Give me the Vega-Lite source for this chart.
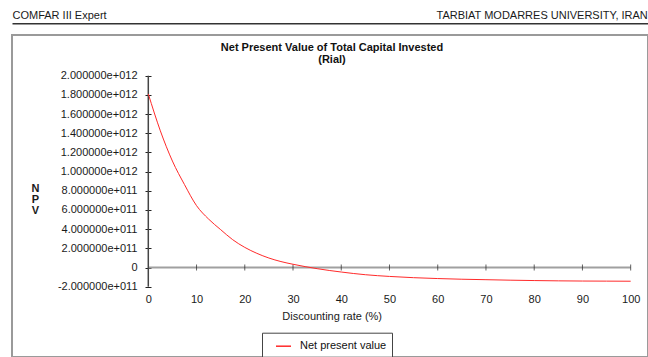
{
  "$schema": "https://vega.github.io/schema/vega-lite/v6.json",
  "width": 636,
  "height": 322,
  "autosize": {"type": "none"},
  "padding": {"left": 12, "top": 35, "right": 0, "bottom": 0},
  "background": "white",
  "config": {
    "font": "Liberation Sans",
    "view": {"stroke": "#9a9a9a", "strokeWidth": 2},
    "axis": {"labelFont": "Liberation Sans", "titleFont": "Liberation Sans", "labelFontSize": 11, "titleFontSize": 11, "labelColor": "#1a1a1a", "titleColor": "#1a1a1a", "grid": false, "labelOverlap": false, "labelFlush": false}
  },
  "title": {
    "text": "Net Present Value of Total Capital Invested",
    "subtitle": "(Rial)",
    "anchor": "middle",
    "frame": "group",
    "dx": 2,
    "offset": -56,
    "font": "Liberation Sans",
    "fontSize": 11,
    "fontWeight": "bold",
    "color": "#111111",
    "subtitleFont": "Liberation Sans",
    "subtitleFontSize": 11,
    "subtitleFontWeight": "bold",
    "subtitleColor": "#111111",
    "subtitlePadding": 1
  },
  "datasets": {
    "curve": [
      {"rate": 0, "npv": 1810000000000},
      {"rate": 2.5, "npv": 1425000000000},
      {"rate": 5, "npv": 1110000000000},
      {"rate": 7.5, "npv": 865000000000},
      {"rate": 10, "npv": 645000000000},
      {"rate": 12.5, "npv": 505000000000},
      {"rate": 15, "npv": 395000000000},
      {"rate": 17.5, "npv": 290000000000},
      {"rate": 20, "npv": 210000000000},
      {"rate": 22.5, "npv": 148000000000},
      {"rate": 25, "npv": 99000000000},
      {"rate": 27.5, "npv": 62000000000},
      {"rate": 30, "npv": 34000000000},
      {"rate": 35, "npv": -12000000000},
      {"rate": 40, "npv": -47000000000},
      {"rate": 45, "npv": -75000000000},
      {"rate": 50, "npv": -93000000000},
      {"rate": 55, "npv": -106000000000},
      {"rate": 60, "npv": -115000000000},
      {"rate": 65, "npv": -122000000000},
      {"rate": 70, "npv": -127000000000},
      {"rate": 75, "npv": -132000000000},
      {"rate": 80, "npv": -136000000000},
      {"rate": 85, "npv": -139000000000},
      {"rate": 90, "npv": -141000000000},
      {"rate": 95, "npv": -142000000000},
      {"rate": 100, "npv": -143000000000}
    ],
    "xticks": [
      {"rate": 10}, {"rate": 20}, {"rate": 30}, {"rate": 40}, {"rate": 50},
      {"rate": 60}, {"rate": 70}, {"rate": 80}, {"rate": 90}, {"rate": 100}
    ],
    "one": [{}]
  },
  "layer": [
    {
      "data": {"name": "one"},
      "mark": {"type": "rule", "color": "#a0a0a0", "strokeWidth": 2},
      "encoding": {
        "x": {"datum": 0, "type": "quantitative", "axis": null},
        "x2": {"datum": 100},
        "y": {"datum": 0, "type": "quantitative", "axis": null}
      }
    },
    {
      "data": {"name": "one"},
      "mark": {"type": "rule", "color": "#444444", "strokeWidth": 1.5},
      "encoding": {
        "x": {"datum": 0, "type": "quantitative", "axis": null},
        "y": {"datum": -200000000000, "type": "quantitative", "axis": null},
        "y2": {"datum": 2000000000000}
      }
    },
    {
      "data": {"name": "xticks"},
      "mark": {"type": "tick", "orient": "vertical", "color": "#222222", "size": 6, "thickness": 1},
      "encoding": {
        "x": {
          "field": "rate", "type": "quantitative",
          "axis": {
            "orient": "top", "offset": 11.7, "domain": true, "domainColor": "#333333", "domainWidth": 1.5,
            "ticks": false, "labels": false,
            "title": "COMFAR III Expert", "titleX": 0, "titleY": -8, "titleAlign": "left", "titleAnchor": "start",
            "titleBaseline": "middle", "titleFontWeight": "normal"
          }
        },
        "y": {
          "datum": 0, "type": "quantitative",
          "axis": {
            "orient": "right", "domain": false, "ticks": false, "labels": false,
            "title": "TARBIAT MODARRES UNIVERSITY, IRAN", "titleAngle": 0, "titleX": -212, "titleY": -20,
            "titleAlign": "left", "titleBaseline": "middle", "titleFontWeight": "normal"
          }
        }
      }
    },
    {
      "data": {"name": "curve"},
      "mark": {"type": "line", "interpolate": "monotone", "strokeWidth": 1},
      "encoding": {
        "x": {
          "field": "rate", "type": "quantitative",
          "scale": {"domain": [-28.255, 103.59], "nice": false, "zero": false},
          "axis": {
            "orient": "bottom", "offset": -67, "values": [0, 10, 20, 30, 40, 50, 60, 70, 80, 90, 100],
            "domain": false, "ticks": false, "labelPadding": 3,
            "title": "Discounting rate (%)", "titleX": 319.7, "titleY": 26.7, "titleAlign": "center",
            "titleBaseline": "middle", "titleFontWeight": "normal"
          }
        },
        "y": {
          "field": "npv", "type": "quantitative",
          "scale": {"domain": [-932990000000, 2424360000000], "nice": false, "zero": false},
          "axis": {
            "orient": "left", "offset": -139,
            "values": [-200000000000, 0, 200000000000, 400000000000, 600000000000, 800000000000, 1000000000000, 1200000000000, 1400000000000, 1600000000000, 1800000000000, 2000000000000],
            "domain": false, "ticks": true, "tickSize": 6, "tickColor": "#222222", "tickWidth": 1,
            "labelPadding": 8,
            "labelExpr": "datum.value == 0 ? '0' : (datum.value < 0 ? '-' : '') + replace(format(abs(datum.value), '.6e'), 'e+', 'e+0')",
            "title": ["N", "P", "V"], "titleAngle": 0, "titleX": -116, "titleY": 153.5,
            "titleAlign": "center", "titleBaseline": "middle", "titleLineHeight": 11, "titleFontWeight": "bold"
          }
        },
        "color": {
          "datum": "Net present value", "type": "nominal",
          "scale": {"range": ["#ff2a2a"]},
          "legend": {
            "orient": "none", "legendX": 250, "legendY": 297.7, "title": null,
            "padding": 5, "symbolOffset": 8, "strokeColor": "#444444", "fillColor": "white",
            "symbolType": "stroke", "symbolSize": 225, "symbolStrokeWidth": 1.5,
            "labelFont": "Liberation Sans", "labelFontSize": 11, "labelColor": "#111111", "labelOffset": 8
          }
        }
      }
    }
  ],
  "resolve": {"axis": {"x": "independent", "y": "independent"}}
}
